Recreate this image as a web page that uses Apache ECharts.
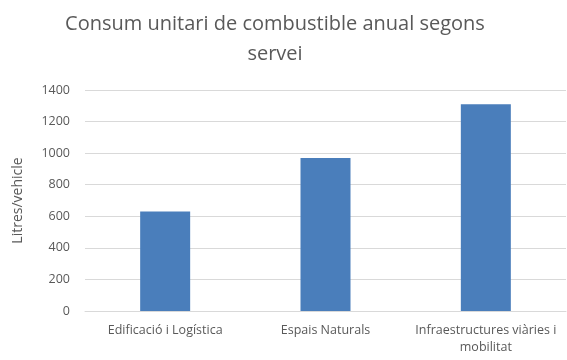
<!DOCTYPE html>
<html><head><meta charset="utf-8">
<script src="https://cdn.jsdelivr.net/npm/echarts@6/dist/echarts.min.js"></script>
<style>html,body{margin:0;padding:0;background:#fff}#c{width:567px;height:360px}</style>
</head><body><div id="c"></div>
<script>
const categories = ['Edificació i Logística', 'Espais Naturals', 'Infraestructures viàries i\nmobilitat'];
const values = [630, 970, 1310];
const yTicks = [0, 200, 400, 600, 800, 1000, 1200, 1400];
const titleText = 'Consum unitari de combustible anual segons\nservei';
const yName = 'Litres/vehicle';

const chart = echarts.init(document.getElementById('c'), null, {renderer: 'canvas'});
chart.setOption({
  animation: false,
  title: {
    text: titleText, left: 270, textAlign: 'center', top: 4,
    textStyle: {fontFamily: 'Open Sans', fontSize: 20, fontWeight: 'normal', color: '#595959', lineHeight: 30}
  },
  grid: {left: 85, right: 1, top: 90, bottom: 49},
  xAxis: {
    type: 'category', data: categories,
    axisLine: {lineStyle: {color: '#d9d9d9'}},
    axisTick: {show: false},
    axisLabel: {color: '#595959', fontFamily: 'Open Sans', fontSize: 12.5, margin: 11, lineHeight: 17, interval: 0}
  },
  yAxis: {
    type: 'value', min: yTicks[0], max: yTicks[yTicks.length-1], interval: 200,
    name: yName, nameLocation: 'middle', nameGap: 60, nameRotate: 90,
    nameTextStyle: {color: '#595959', fontFamily: 'Open Sans', fontSize: 14},
    axisLine: {show: false}, axisTick: {show: false},
    axisLabel: {color: '#595959', fontFamily: 'Open Sans', fontSize: 12.5, margin: 15, formatter: v => String(v)},
    splitLine: {lineStyle: {color: '#d9d9d9'}}
  },
  series: [{type: 'bar', data: values, barWidth: 50, itemStyle: {color: '#4a7ebb'}}]
});
</script></body></html>
